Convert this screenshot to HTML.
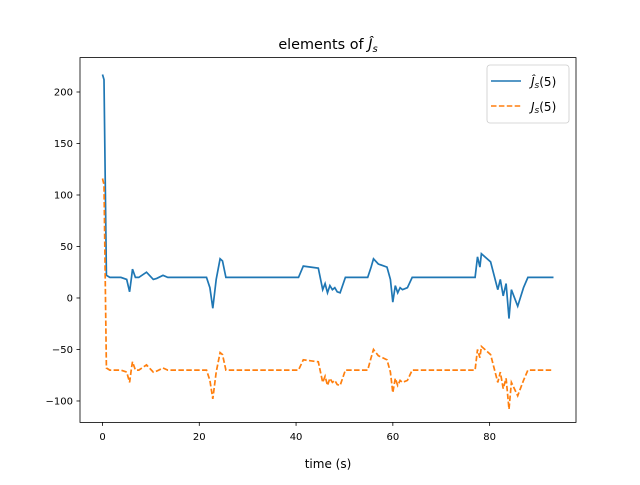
<!DOCTYPE html>
<html><head><meta charset="utf-8"><style>
body{margin:0;background:#fff}
svg text{font-family:"DejaVu Sans","Liberation Sans",sans-serif;fill:#000}
</style></head><body>
<svg id="chart" width="640" height="480" viewBox="0 0 640 480" xmlns="http://www.w3.org/2000/svg">
<rect width="640" height="480" fill="#fff"/>
<g id="plot"></g>
<rect x="80" y="57.6" width="496" height="364.8" fill="none" stroke="#000" stroke-width="0.8"/>
<g id="xticks"></g><g id="yticks"></g>
<text x="328" y="49" font-size="14.4" text-anchor="middle">elements of <tspan font-style="italic">Ĵ</tspan><tspan font-style="italic" font-size="10" dy="3">s</tspan></text>
<text x="328" y="468" font-size="12" text-anchor="middle">time (s)</text>
<g>
<rect x="487" y="65" width="82" height="58" rx="3" fill="#fff" stroke="#ccc" stroke-width="0.8"/>
<line x1="491" y1="81" x2="521" y2="81" stroke="#1f77b4" stroke-width="1.5"/>
<text x="531" y="86" font-size="12"><tspan font-style="italic">Ĵ</tspan><tspan font-style="italic" font-size="9" dy="2">s</tspan><tspan dy="-2">(5)</tspan></text>
<line x1="491" y1="106" x2="521" y2="106" stroke="#ff7f0e" stroke-width="1.5" stroke-dasharray="5.5,2.4"/>
<text x="531" y="111" font-size="12"><tspan font-style="italic">J</tspan><tspan font-style="italic" font-size="9" dy="2">s</tspan><tspan dy="-2">(5)</tspan></text>
</g>
</svg>
<script>
const jhatT=[0,0.3,0.8,1.5,3.8,5.0,5.6,6.0,6.2,6.8,7.5,9.1,10.5,11.2,12.5,13.5,21.5,22.2,22.8,23.5,24.3,24.8,25.5,40.5,41.5,44.6,45.5,46.0,46.5,47.0,47.5,48.0,48.5,49.1,50.2,54.8,55.5,56.0,57.0,58.8,59.5,60.0,60.5,61.0,61.5,62.0,63.0,64.0,77.0,77.5,78.0,78.3,80.2,81.7,82.2,82.8,83.4,84.0,84.5,85.8,87.0,87.9,93.2];
const jhatV=[217,212,22,20,20,18,6,20,28,20,20,25,18,19,22,20,20,10,-10,18,38,36,20,20,31,29,8,14,5,12,8,10,6,5,20,20,30,38,33,30,18,-4,12,5,10,8,10,20,20,40,30,43,35,8,18,2,14,-20,8,-8,10,20,20];
const jT=[0,0.3,0.8,1.5,3.8,5.0,5.6,6.0,6.2,6.8,7.5,9.1,10.5,11.2,12.5,13.5,21.5,22.2,22.8,23.5,24.3,24.8,25.5,40.5,41.5,44.6,45.5,46.0,46.5,47.0,47.5,48.0,48.5,49.1,50.2,54.8,55.5,56.0,57.0,58.8,59.5,60.0,60.5,61.0,61.5,62.0,63.0,64.0,77.0,77.5,78.0,78.3,80.2,81.7,82.2,82.8,83.4,84.0,84.5,85.8,87.0,87.9,93.2];
const jV=[116,110,-68,-70,-70,-72,-82,-68,-62,-70,-70,-65,-72,-71,-68,-70,-70,-80,-98,-72,-53,-55,-70,-70,-60,-62,-82,-76,-85,-78,-82,-80,-84,-85,-70,-70,-58,-50,-56,-60,-72,-92,-78,-85,-80,-82,-80,-70,-70,-50,-58,-47,-55,-82,-72,-88,-78,-108,-82,-95,-80,-70,-70];
const xTicks=[0,20,40,60,80];
const yTicks=[-100,-50,0,50,100,150,200];
const ns="http://www.w3.org/2000/svg";
const X=t=>80+(t+4.65)/(97.85+4.65)*496;
const Y=v=>422.4-(v+120.8)/(233.4+120.8)*364.8;
const plot=document.getElementById('plot');
function line(ts,vs,color,dash,name){
  const p=document.createElementNS(ns,'path');
  p.setAttribute('d',ts.map((t,i)=>(i?'L':'M')+X(t).toFixed(1)+' '+Y(vs[i]).toFixed(1)).join(''));
  p.setAttribute('fill','none');p.setAttribute('stroke',color);p.setAttribute('stroke-width','1.7');
  if(dash)p.setAttribute('stroke-dasharray',dash);
  
  
  plot.appendChild(p);
}
line(jhatT,jhatV,'#1f77b4',null,'series-jhat');
line(jT,jV,'#ff7f0e','5.5,2.4','series-j');
const xg=document.getElementById('xticks');
xTicks.forEach(t=>{
  const l=document.createElementNS(ns,'line');
  l.setAttribute('x1',X(t));l.setAttribute('x2',X(t));l.setAttribute('y1',422.4);l.setAttribute('y2',425.9);l.setAttribute('stroke','#000');l.setAttribute('stroke-width','0.8');
  
  
  xg.appendChild(l);
  const tx=document.createElementNS(ns,'text');
  tx.setAttribute('x',X(t));tx.setAttribute('y',440);tx.setAttribute('font-size','10');tx.setAttribute('text-anchor','middle');
  tx.textContent=t;
  
  
  xg.appendChild(tx);
});
const yg=document.getElementById('yticks');
yTicks.forEach(v=>{
  const l=document.createElementNS(ns,'line');
  l.setAttribute('x1',76.5);l.setAttribute('x2',80);l.setAttribute('y1',Y(v));l.setAttribute('y2',Y(v));l.setAttribute('stroke','#000');l.setAttribute('stroke-width','0.8');
  
  
  yg.appendChild(l);
  const tx=document.createElementNS(ns,'text');
  tx.setAttribute('x',73);tx.setAttribute('y',Y(v)+3.6);tx.setAttribute('font-size','10');tx.setAttribute('text-anchor','end');
  tx.textContent=v<0?'\u2212'+(-v):v;
  
  
  yg.appendChild(tx);
});
</script>
</body></html>
